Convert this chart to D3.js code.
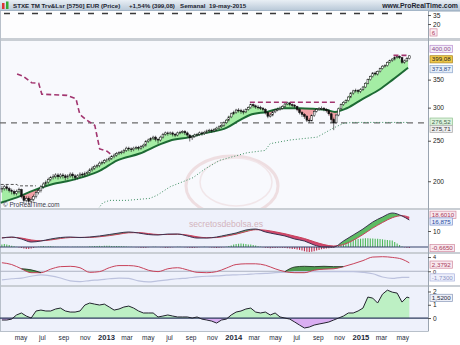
<!DOCTYPE html>
<html>
<head>
<meta charset="utf-8">
<title>STXE TM Trv&amp;Lsr</title>
<script src="https://cdn.jsdelivr.net/npm/d3@7"></script>
<style>
  body { margin: 0; background: #fff; }
  svg { display: block; font-family: "Liberation Sans", Arial, sans-serif; }
</style>
</head>
<body>
<svg id="chart"></svg>
<script>
// Weekly candles, first week 5-mar-2012, last week 18-may-2015
const weekStart = "2012-03-05";
const firstOpen = 191;
const closes = [
  192,194,192,190,189,187,189,191,184,180,
  182,179,181,184,188,190,194,197,199,202,
  204,205,207,205,207,206,204,206,208,206,
  204,206,208,207,209,210,213,215,217,218,
  221,222,224,225,227,229,231,233,234,235,
  237,240,239,238,240,241,240,242,244,249,
  251,253,255,252,251,255,259,261,260,261,
  259,258,261,262,263,261,258,254,256,258,
  259,261,260,262,264,265,264,266,268,270,
  272,276,280,285,290,292,296,295,294,293,
  297,300,305,303,301,300,299,297,292,286,
  288,293,296,297,299,302,306,308,305,304,
  302,297,292,289,286,280,279,287,294,297,
  299,299,297,295,290,281,276,288,298,305,
  309,312,318,325,329,330,328,331,336,343,
  350,356,363,361,366,372,377,378,385,389,
  392,396,398,395,385,388,393,399.08];
const highs = [
  195,196,196,194,192,191,191,193,192,186,
  184,184,183,186,190,192,196,199,201,204,
  206,208,209,209,209,209,208,208,210,210,
  208,208,210,210,211,212,215,217,219,220,
  223,224,226,227,229,231,233,235,236,237,
  239,242,242,241,242,243,243,244,246,251,
  253,255,257,257,254,257,261,263,263,263,
  263,261,263,264,265,265,263,259,258,260,
  261,263,263,264,266,267,267,268,270,272,
  274,278,282,287,292,295,298,299,298,297,
  299,302,307,307,305,304,303,301,299,294,
  291,295,298,300,302,304,308,310,309,307,
  306,303,299,294,291,288,283,289,296,299,
  301,302,301,299,297,292,284,290,300,307,
  311,314,320,327,331,333,332,334,338,345,
  352,358,365,366,368,374,379,381,387,391,
  394,398,400,400,396,391,396,400];
const lows = [
  188,190,190,188,186,185,185,187,182,177,
  178,176,177,179,182,186,188,192,195,197,
  200,202,203,202,203,203,201,202,204,203,
  201,202,204,205,205,207,208,211,213,215,
  216,219,220,222,223,225,227,229,231,232,
  233,235,236,235,236,238,237,238,240,242,
  247,249,251,249,246,249,253,257,257,258,
  256,255,256,259,260,258,255,249,251,254,
  256,257,257,258,260,262,261,262,264,266,
  268,270,274,278,283,288,290,292,290,289,
  291,295,298,300,298,297,296,294,289,283,
  284,286,291,294,295,297,300,304,302,301,
  299,294,289,285,282,277,276,278,285,292,
  295,296,294,292,287,276,265,274,286,296,
  303,307,310,316,322,326,324,325,329,334,
  341,348,354,358,358,364,370,374,376,383,
  386,389,393,392,382,382,386,391];

// Moving average (green line under the candles)
const maDates = ["2012-03-05","2012-04-21","2012-06-06","2012-08-02","2012-09-11","2012-11-07",
  "2012-12-15","2013-02-01","2013-04-08","2013-06-05","2013-07-03","2013-08-30","2013-10-06",
  "2013-12-14","2014-01-20","2014-02-18","2014-04-08","2014-05-24","2014-07-11","2014-08-18",
  "2014-09-27","2014-10-20","2014-11-23","2015-01-08","2015-02-26","2015-04-04","2015-05-18"];
const maValues = [177.7,183,190,197,200,206,212,224,233,245,250,255,260,268.6,280,288,293,299,
  299,298,296,293,299,315,332,350,373.87];

// Dashed magenta high line (null = not drawn)
const highLineDates = ["2012-04-21","2012-05-08","2012-06-02","2012-06-22","2012-07-01","2012-09-11",
  "2012-10-07","2012-10-18","2012-11-07","2012-11-30","2012-12-14","2013-01-04","2013-01-18",
  "2013-02-01","2014-02-18","2014-10-20","2014-11-01","2015-04-06","2015-05-18"];
const highLineValues = [361,357,344,343,323,321,315,289,280,272,239,236,231,
  null,309,309,null,400,400];

// Short dark dashed line, top left
const oldLineDates = ["2012-03-05","2012-04-21","2012-04-24","2012-06-14"];
const oldLineValues = [196.5,196.5,195,195];

// Dotted green low line
const lowLineDates = ["2012-12-10","2012-12-23","2013-01-12","2013-03-02","2013-05-07","2013-05-27",
  "2013-07-04","2013-09-08","2013-10-12","2013-11-24","2013-12-23","2014-02-10","2014-04-03",
  "2014-04-17","2014-06-13","2014-08-30","2014-10-15","2014-11-13","2014-12-09","2015-05-18"];
const lowLineValues = [172,177.7,180,180,182,185,194,204,214,224.5,228,234,237,246,251,255,268,
  275,276.52,276.52];

const supportLevel = 275.71;
const miniLevel = 37.5;

// Indicator panels: one value every 4 weeks (last point = last week)
const macdFast = [5.6,6.25,5,3.1,3.75,5,5.9,6.25,5.9,6.25,6.9,7.8,8.75,9.4,8.75,7.8,7.5,8.1,8.1,
  6.9,5.6,5.6,6.25,7.5,8.75,10.6,11.25,9.4,8.1,6.9,5,3.75,1.25,0,0,3.75,7.5,11.25,15.6,18.75,
  21.25,19.4,16.875];
const macdSlow = [5.8,6.0,5.6,4.4,3.9,4.4,5.3,5.9,6.0,6.0,6.4,7.1,8.0,8.9,9.0,8.4,7.8,7.8,8.0,
  7.5,6.4,5.8,5.9,6.8,8.0,9.6,10.8,10.5,9.5,8.3,6.8,5.3,3.3,1.5,0.6,1.5,4.2,7.8,11.8,15.3,18.3,
  19.6,18.6];
// weekly histogram
const macdHist = [1.5,1.8,1.5,1.2,0.8,0.4,0.1,-0.3,-0.6,-1.0,-1.2,-1.3,-1.0,-0.6,-0.2,0.2,0.4,0.6,
  0.3,0.4,0.4,0.3,0.2,0.1,0.1,0.2,0.2,0.1,0.0,0.1,0.1,0.2,0.2,0.1,0.1,0.2,
  0.4,0.5,0.6,0.6,0.7,0.7,0.8,0.8,0.8,0.7,0.7,0.6,0.6,0.5,0.4,0.3,
  0.2,0.1,0.0,-0.1,-0.2,-0.4,-0.5,-0.4,-0.2,0.0,0.1,0.1,0.0,-0.1,-0.2,-0.4,-0.4,-0.3,-0.2,
  0.0,0.1,0.1,0.0,-0.1,-0.3,-0.5,-0.6,-0.5,-0.3,-0.1,0.0,0.1,0.0,-0.1,
  -0.3,-0.5,-0.6,-0.5,-0.3,-0.1,0.2,0.6,1.0,1.5,1.8,2.0,2.2,2.0,1.8,1.6,1.5,1.2,0.9,
  0.5,0.2,-0.2,-0.5,-0.7,-0.8,-0.7,-0.6,-0.5,-0.4,-0.5,-0.6,-0.8,-1.0,-1.2,-1.3,-1.5,-1.8,
  -2.2,-2.6,-3.0,-3.2,-3.0,-2.6,-2.2,-1.8,-1.4,-1.2,-1.0,-0.8,-0.6,-0.4,
  0.3,1.0,1.8,2.6,3.2,3.8,4.3,4.6,4.8,5.0,5.2,5.3,5.4,5.4,5.3,5.3,5.2,5.1,5.0,4.8,4.6,4.4,4.2,4.0,
  3.2,2.2,1.2,0.3,-0.2,-0.5,-0.665];
const oscRed = [2.4,1.9,0.7,-0.4,-0.4,0.6,1.3,1.4,1.0,-0.3,-0.1,1.0,1.6,1.6,1.3,0.3,-0.1,0.7,1.0,
  0.4,-0.3,-0.4,-0.1,0.9,1.9,2.1,2.1,1.7,0.7,-0.1,-0.4,-0.4,0.3,0.6,0.7,1.3,2.1,3.0,4.0,4.1,3.9,
  3.4,2.3792];
const oscBlack = [null,null,0.7,0.4,-0.4,null,null,null,null,null,null,null,null,null,null,null,
  null,null,null,null,null,null,null,null,null,null,null,null,null,-0.1,1.2,1.4,1.3,1.4,1.3,1.3,
  null,null,null,null,null,null,null];
const oscLilac = [-2.4,-2.1,-1.9,-1.4,-1.0,-1.3,-1.9,-2.7,-2.9,-2.6,-2.4,-2.1,-1.9,-2.0,-2.7,-3.0,
  -2.7,-2.4,-2.1,-1.9,-1.6,-1.4,-1.3,-1.1,-1.0,-0.9,-0.7,-0.6,-0.4,-0.3,-0.1,-0.1,-0.1,-0.1,-0.1,
  -0.1,-0.1,-0.3,-0.7,-1.6,-2.0,-1.7,-1.73];
// one value every 2 weeks
const momentum = [-0.15,-0.15,-0.08,0.23,0.38,0.15,0,0.53,0.6,0.53,0.53,0.68,0.75,0.53,0.45,0.45,
  0.53,0.98,1.13,1.05,0.98,1.05,0.83,0.6,0.68,0.83,0.9,0.75,0.53,0.38,0.38,0.38,0.08,0.15,0.23,
  0.15,0.08,0.08,0.08,0,0.08,-0.08,-0.15,-0.23,-0.38,-0.15,-0.08,0.23,0.45,0.53,0.68,0.75,0.45,
  0.38,0.45,0.23,0.38,0.08,0,-0.08,-0.3,-0.53,-0.75,-0.68,-0.53,-0.45,-0.38,-0.3,-0.15,0,0.15,
  0.38,0.38,0.53,0.75,1.58,1.5,1.13,1.8,2.1,1.95,1.88,1.2,1.58,1.52];

const priceTicks = [200, 250, 300, 350];
const macdTicks = [10];
const oscTicks = [4, 0];
const momTicks = [2, 1, 0];
const miniTicks = [35, 20];
const monthNames = ["ene","feb","mar","abr","may","jun","jul","ago","sep","oct","nov","dic"];

// ---------------------------------------------------------------
const W = 460, H = 345, R = 428;
const parse = d3.timeParse("%Y-%m-%d");
const svg = d3.select("#chart").attr("width", W).attr("height", H);
const defs = svg.append("defs");

const P = {
  mini: [11, 38], main: [41, 208], macd: [210, 252], osc: [254, 285], mom: [287, 331]
};

const x = d3.scaleTime().domain([parse("2012-03-03"), parse("2015-07-14")]).range([0, R]);
const yP = d3.scaleLog().domain([172.6, 433]).range([P.main[1], P.main[0]]);
const yMini = d3.scaleLinear().domain([-3.3, 41.7]).range([P.mini[1], P.mini[0]]);
const yMacd = d3.scaleLinear().domain([-3.125, 23.125]).range([P.macd[1], P.macd[0]]);
const yOsc = d3.scaleLinear().domain([-3.857, 4.857]).range([P.osc[1], P.osc[0]]);
const yMom = d3.scaleLinear().domain([-0.977, 2.338]).range([P.mom[1], P.mom[0]]);

const weeks = closes.map((c, i) => d3.timeDay.offset(parse(weekStart), 7 * i));
const candles = closes.map((c, i) => ({
  date: weeks[i], open: i ? closes[i - 1] : firstOpen, close: c, high: highs[i], low: lows[i]
}));
const cx = d => x(d.date) + 1.2;

const idx4 = d3.range(0, 165, 4).concat([167]);
const idx2 = d3.range(0, 167, 2).concat([167]);

// backgrounds
svg.append("rect").attr("width", W).attr("height", H).attr("fill", "#fff");
const grad = defs.append("linearGradient").attr("id", "titleGrad").attr("x1", 0).attr("x2", 0).attr("y1", 0).attr("y2", 1);
grad.append("stop").attr("offset", 0).attr("stop-color", "#e9eff5");
grad.append("stop").attr("offset", 1).attr("stop-color", "#b6c6d6");
svg.append("rect").attr("width", W).attr("height", 11).attr("fill", "url(#titleGrad)");
svg.append("line").attr("x1", 0).attr("x2", W).attr("y1", 11).attr("y2", 11).attr("stroke", "#8ea2b6");

Object.entries(P).forEach(([k, p]) => {
  svg.append("rect").attr("x", 0).attr("y", p[0]).attr("width", R).attr("height", p[1] - p[0])
    .attr("fill", k === "mini" ? "#fdfdfe" : k === "main" ? "#f8f9fd" : "#eef1fb");
});
[[38, 41], [208, 210], [252, 254], [285, 287]].forEach(s => {
  svg.append("rect").attr("x", 0).attr("y", s[0]).attr("width", W).attr("height", s[1] - s[0]).attr("fill", "#c9ced4");
});
svg.append("line").attr("x1", 0).attr("x2", R).attr("y1", 331.5).attr("y2", 331.5).attr("stroke", "#b8c0ca");
svg.append("line").attr("x1", R + 0.5).attr("x2", R + 0.5).attr("y1", 11).attr("y2", 331.5).attr("stroke", "#9aa4b0");
svg.append("line").attr("x1", 0.5).attr("x2", 0.5).attr("y1", 11).attr("y2", 331.5).attr("stroke", "#b8c0ca");

// title
svg.append("rect").attr("x", 2).attr("y", 3).attr("width", 2.5).attr("height", 6).attr("fill", "#d33");
svg.append("rect").attr("x", 6).attr("y", 1.5).attr("width", 2.5).attr("height", 7.5).attr("fill", "#3a3");
const title = svg.append("g").attr("font-size", 6.2).attr("font-weight", "bold").attr("fill", "#1c2430");
title.append("text").attr("x", 13).attr("y", 8.3).text("STXE TM Trv&Lsr [5750] EUR (Price)");
title.append("text").attr("x", 129).attr("y", 8.3).text("+1,54% (399,08)");
title.append("text").attr("x", 180).attr("y", 8.3).text("Semanal");
title.append("text").attr("x", 209).attr("y", 8.3).text("19-may-2015");
title.append("text").attr("x", 458).attr("y", 8.3).attr("text-anchor", "end").attr("font-size", 6.9).text("www.ProRealTime.com");

// clip helper
function clipRect(id, p) {
  defs.append("clipPath").attr("id", id).append("rect").attr("x", 0).attr("y", p[0]).attr("width", R).attr("height", p[1] - p[0]);
}
Object.entries(P).forEach(([k, p]) => clipRect("clip-" + k, p));

// fill between series A and series B: upColour where A above B, downColour where below
function band(g, id, pathA, pathB, top, bottom, upColour, downColour) {
  defs.append("clipPath").attr("id", id + "-ab").append("path").attr("d", pathB(top));
  defs.append("clipPath").attr("id", id + "-bl").append("path").attr("d", pathB(bottom));
  g.append("path").attr("clip-path", `url(#${id}-ab)`).attr("fill", upColour).attr("d", pathA(bottom));
  g.append("path").attr("clip-path", `url(#${id}-bl)`).attr("fill", downColour).attr("d", pathA(top));
}

// ---------------- mini panel ----------------
const gMini = svg.append("g").attr("clip-path", "url(#clip-mini)");
gMini.append("line").attr("x1", 4).attr("x2", 405).attr("y1", yMini(miniLevel)).attr("y2", yMini(miniLevel))
  .attr("stroke", "#3a3a3a").attr("stroke-width", 1.3).attr("stroke-dasharray", "6,8");

// ---------------- main price panel ----------------
const gMain = svg.append("g").attr("clip-path", "url(#clip-main)");

// watermark
const wm = gMain.append("g").attr("opacity", 0.25);
wm.append("ellipse").attr("cx", 232).attr("cy", 186).attr("rx", 46).attr("ry", 30)
  .attr("fill", "none").attr("stroke", "#d48f8f").attr("stroke-width", 3);
wm.append("ellipse").attr("cx", 236).attr("cy", 182).attr("rx", 36).attr("ry", 24)
  .attr("fill", "none").attr("stroke", "#e0b0b0").attr("stroke-width", 1.5);

gMain.append("line").attr("x1", 0).attr("x2", R).attr("y1", yP(supportLevel)).attr("y2", yP(supportLevel))
  .attr("stroke", "#6a6a6a").attr("stroke-width", 1.2).attr("stroke-dasharray", "6,5");

const maData = maDates.map((d, i) => ({ date: parse(d), v: maValues[i] }));
const maX = d => x(d.date), maY = d => yP(d.v);
band(gMain, "mainband",
  edge => d3.area().x(cx).y0(edge).y1(d => yP(d.close))(candles),
  edge => d3.area().x(maX).y0(edge).y1(maY).curve(d3.curveMonotoneX)(maData),
  P.main[0], P.main[1], "#a4eda4", "#f2a0a6");

const lowData = lowLineDates.map((d, i) => ({ date: parse(d), v: lowLineValues[i] }));
gMain.append("path").attr("d", d3.line().x(maX).y(maY)(lowData))
  .attr("fill", "none").attr("stroke", "#3f8f63").attr("stroke-width", 1).attr("stroke-dasharray", "1,2");

gMain.append("path").attr("d", d3.line().x(maX).y(maY).curve(d3.curveMonotoneX)(maData))
  .attr("fill", "none").attr("stroke", "#1d6a34").attr("stroke-width", 2);

// candles
gMain.selectAll("line.wick").data(candles).join("line").attr("class", "wick")
  .attr("x1", cx).attr("x2", cx).attr("y1", d => yP(d.high)).attr("y2", d => yP(d.low))
  .attr("stroke", "#111").attr("stroke-width", 0.6);
gMain.selectAll("rect.body").data(candles).join("rect").attr("class", "body")
  .attr("x", d => cx(d) - 0.9).attr("width", 1.8)
  .attr("y", d => yP(Math.max(d.open, d.close)))
  .attr("height", d => Math.max(0.8, Math.abs(yP(d.open) - yP(d.close))))
  .attr("fill", d => d.close >= d.open ? "#fff" : "#111")
  .attr("stroke", "#111").attr("stroke-width", 0.5);

const hiData = highLineDates.map((d, i) => ({ date: parse(d), v: highLineValues[i] }));
gMain.append("path").attr("d", d3.line().defined(d => d.v != null).x(maX).y(maY)(hiData))
  .attr("fill", "none").attr("stroke", "#a2356f").attr("stroke-width", 1.6).attr("stroke-dasharray", "5,3");
const oldData = oldLineDates.map((d, i) => ({ date: parse(d), v: oldLineValues[i] }));
gMain.append("path").attr("d", d3.line().x(maX).y(maY)(oldData))
  .attr("fill", "none").attr("stroke", "#555").attr("stroke-width", 1).attr("stroke-dasharray", "3,2");

gMain.append("text").attr("x", 3).attr("y", 207).attr("font-size", 6.3).attr("fill", "#3a3a4a").text("© ProRealTime.com");

// ---------------- MACD-like panel ----------------
const gMacd = svg.append("g").attr("clip-path", "url(#clip-macd)");
const macdData = idx4.map((wi, k) => ({ date: weeks[wi], a: macdFast[k], b: macdSlow[k] }));
const mx = d => x(d.date) + 1.2;
band(gMacd, "macdband",
  edge => d3.area().x(mx).y0(edge).y1(d => yMacd(d.a)).curve(d3.curveMonotoneX)(macdData),
  edge => d3.area().x(mx).y0(edge).y1(d => yMacd(d.b)).curve(d3.curveMonotoneX)(macdData),
  P.macd[0], P.macd[1], "#5dbb63", "#d0466e");
gMacd.selectAll("line.hist").data(macdHist).join("line").attr("class", "hist")
  .attr("x1", (v, i) => x(weeks[i]) + 1.2).attr("x2", (v, i) => x(weeks[i]) + 1.2)
  .attr("y1", yMacd(0)).attr("y2", v => yMacd(v))
  .attr("stroke", v => v >= 0 ? "#4fb85a" : "#c0304e").attr("stroke-width", 1.1);
gMacd.append("line").attr("x1", 0).attr("x2", R).attr("y1", yMacd(0)).attr("y2", yMacd(0))
  .attr("stroke", "#34436a").attr("stroke-width", 1.2);
gMacd.append("path").attr("d", d3.line().x(mx).y(d => yMacd(d.b)).curve(d3.curveMonotoneX)(macdData))
  .attr("fill", "none").attr("stroke", "#c8425a").attr("stroke-width", 1);
gMacd.append("path").attr("d", d3.line().x(mx).y(d => yMacd(d.a)).curve(d3.curveMonotoneX)(macdData))
  .attr("fill", "none").attr("stroke", "#3b3350").attr("stroke-width", 1);

svg.append("text").attr("x", 226).attr("y", 227).attr("text-anchor", "middle").attr("font-size", 8.6)
  .attr("fill", "#c99aa4").attr("opacity", 0.7).text("secretosdebolsa.es");

// ---------------- oscillator panel ----------------
const gOsc = svg.append("g").attr("clip-path", "url(#clip-osc)");
const oscData = idx4.map((wi, k) => ({ date: weeks[wi], a: oscRed[k], b: oscBlack[k], c: oscLilac[k] }));
gOsc.append("line").attr("x1", 0).attr("x2", R).attr("y1", yOsc(0)).attr("y2", yOsc(0))
  .attr("stroke", "#aeb3c2").attr("stroke-width", 1);
gOsc.append("path").attr("d", d3.area().defined(d => d.b != null).x(mx)
    .y0(d => yOsc(d.a)).y1(d => yOsc(d.b)).curve(d3.curveMonotoneX)(oscData))
  .attr("fill", "#4f9a4f");
gOsc.append("path").attr("d", d3.line().x(mx).y(d => yOsc(d.c)).curve(d3.curveMonotoneX)(oscData))
  .attr("fill", "none").attr("stroke", "#bcc2de").attr("stroke-width", 1.2);
gOsc.append("path").attr("d", d3.line().x(mx).y(d => yOsc(d.a)).curve(d3.curveMonotoneX)(oscData))
  .attr("fill", "none").attr("stroke", "#c8425a").attr("stroke-width", 1);
gOsc.append("path").attr("d", d3.line().defined(d => d.b != null).x(mx).y(d => yOsc(d.b)).curve(d3.curveMonotoneX)(oscData))
  .attr("fill", "none").attr("stroke", "#243424").attr("stroke-width", 0.9);

// ---------------- momentum panel ----------------
const gMom = svg.append("g");
const momData = idx2.map((wi, k) => ({ date: weeks[wi], v: momentum[k] }));
clipRect("mom-up", [P.mom[0], yMom(0)]);
clipRect("mom-dn", [yMom(0), P.mom[1]]);
const momArea = d3.area().x(mx).y0(yMom(0)).y1(d => yMom(d.v));
gMom.append("path").attr("clip-path", "url(#mom-up)").attr("d", momArea(momData)).attr("fill", "#bdf0c4");
gMom.append("path").attr("clip-path", "url(#mom-dn)").attr("d", momArea(momData)).attr("fill", "#d9aef2");
gMom.append("line").attr("x1", 0).attr("x2", R).attr("y1", yMom(0)).attr("y2", yMom(0))
  .attr("stroke", "#2c3b5c").attr("stroke-width", 1.2);
gMom.append("path").attr("d", d3.line().x(mx).y(d => yMom(d.v))(momData))
  .attr("fill", "none").attr("stroke", "#23232f").attr("stroke-width", 1);

// ---------------- right axes ----------------
function rightAxis(scale, ticks, fmt) {
  const g = svg.append("g").attr("transform", `translate(${R},0)`)
    .call(d3.axisRight(scale).tickValues(ticks).tickSize(3).tickPadding(2).tickFormat(fmt || d3.format("d")));
  g.select(".domain").remove();
  g.selectAll("text").attr("font-size", 6.6).attr("fill", "#222").attr("font-family", "Liberation Sans, Arial, sans-serif");
  g.selectAll("line").attr("stroke", "#555");
  return g;
}
rightAxis(yMini, miniTicks);
rightAxis(yP, priceTicks);
rightAxis(yMacd, macdTicks);
rightAxis(yOsc, oscTicks).selectAll("text").attr("font-size", 5.6);
rightAxis(yMom, momTicks);

function valueBox(y, text, fill, stroke, colour) {
  const g = svg.append("g").attr("transform", `translate(430,${y})`);
  const t = g.append("text").attr("x", 1.8).attr("dy", "0.35em").attr("font-size", 6.2).attr("fill", colour).text(text);
  const w = t.node().getComputedTextLength();
  g.insert("rect", "text").attr("x", 0).attr("y", -3.6).attr("width", w + 3.6).attr("height", 7.2)
    .attr("fill", fill).attr("stroke", stroke).attr("stroke-width", 0.7);
}
valueBox(yMini(6), "6", "#fbeef2", "#d28aa0", "#b04060");
valueBox(yP(400) - 6.5, "400,00", "#f3eef8", "#b98ccf", "#8a4a8a");
valueBox(yP(399.08) + 3.5, "399,08", "#efc84a", "#a88420", "#222");
valueBox(yP(373.87) + 1.5, "373,87", "#e6eef8", "#8ba5cc", "#2b4b8b");
valueBox(yP(276.52) - 0.8, "276,52", "#dcf2dc", "#8fc08f", "#456a50");
valueBox(yP(275.71) + 6, "275,71", "#eeeeee", "#a8a8a8", "#333");
valueBox(yMacd(18.6) - 2.5, "18,6010", "#f8e8ee", "#d28aa0", "#a83a5a");
valueBox(yMacd(16.875) + 1.5, "16,875", "#e6ecfa", "#7f95cf", "#2a48a0");
valueBox(yMacd(-0.665), "-0,6650", "#f8e8ee", "#d28aa0", "#a83a5a");
valueBox(yOsc(2.3792) + 1.8, "2,3792", "#f8e8ee", "#d28aa0", "#a83a5a");
valueBox(yOsc(-1.73), "-1,7300", "#eef0fb", "#aab3de", "#8a93c6");
valueBox(yMom(1.52), "1,5200", "#eef0f8", "#8898b8", "#1f2a44");

// ---------------- time axis ----------------
const monthTicks = d3.timeMonth.every(2).range(parse("2012-05-01"), parse("2015-05-02"));
const xa = svg.append("g").attr("transform", "translate(0,333)")
  .call(d3.axisBottom(x).tickValues(monthTicks).tickSize(0).tickPadding(2)
    .tickFormat(d => d.getMonth() === 0 ? d.getFullYear() : monthNames[d.getMonth()]));
xa.select(".domain").remove();
xa.selectAll("text").attr("font-family", "Liberation Sans, Arial, sans-serif").attr("fill", "#1e2a3a")
  .attr("font-size", d => d.getMonth() === 0 ? 7.6 : 6.6)
  .attr("font-weight", d => d.getMonth() === 0 ? "bold" : "normal");
</script>
</body>
</html>
